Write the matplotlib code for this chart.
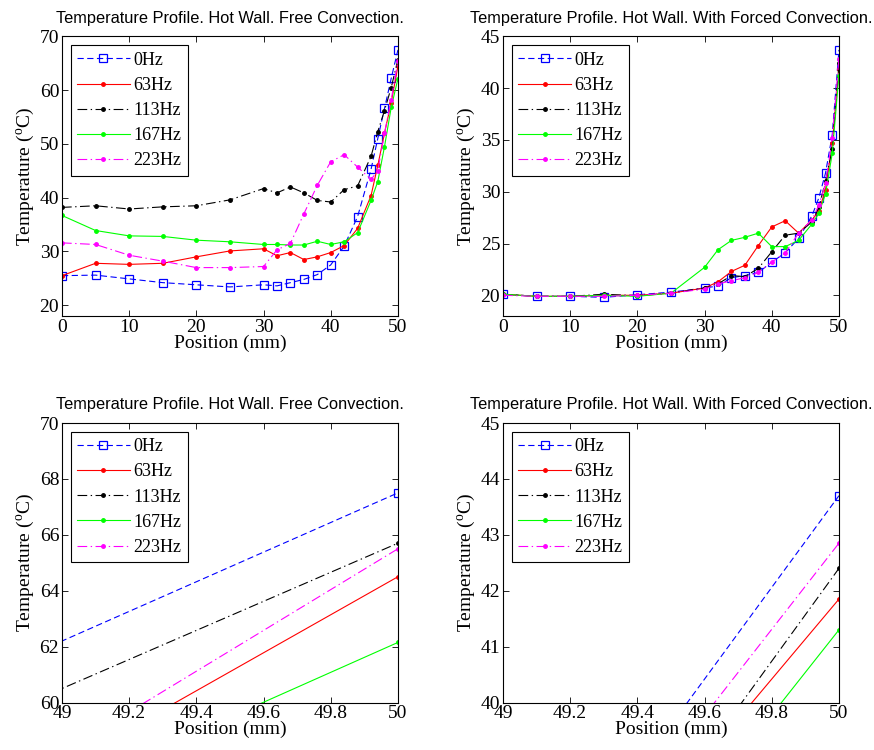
"""Hot-wall temperature profiles: free vs forced convection, full and zoomed views."""

import matplotlib

matplotlib.use("Agg")
import matplotlib.pyplot as plt  # noqa: E402
from matplotlib.ticker import FormatStrFormatter  # noqa: E402

# positions along the wall (mm)
pos = [0, 5, 10, 15, 20, 25, 30, 32, 34, 36, 38, 40, 42, 44, 46, 47, 48, 49, 50]

# free convection (degC)
free_0 = [25.5, 25.6, 24.9, 24.2, 23.8, 23.4, 23.8, 23.6, 24.2, 24.8, 25.7, 27.5, 31.0, 36.5, 45.3, 51.0, 56.6, 62.2, 67.5]
free_63 = [25.5, 27.8, 27.6, 27.8, 29.0, 30.1, 30.5, 29.2, 29.8, 28.5, 29.0, 29.8, 31.1, 34.3, 40.4, 46.0, 52.0, 57.7, 64.5]
free_113 = [38.2, 38.5, 37.9, 38.3, 38.5, 39.6, 41.7, 40.9, 42.0, 40.9, 39.5, 39.2, 41.5, 42.2, 47.7, 52.3, 56.2, 60.5, 65.7]
free_167 = [36.7, 33.9, 32.9, 32.8, 32.1, 31.8, 31.3, 31.3, 31.2, 31.2, 31.9, 31.3, 31.8, 33.5, 39.5, 43.0, 49.5, 56.8, 62.15]
free_223 = [31.6, 31.3, 29.3, 28.2, 27.0, 27.0, 27.2, 30.3, 31.5, 37.0, 42.3, 46.7, 48.0, 45.7, 43.4, 45.0, 52.0, 58.2, 65.5]

# forced convection (degC)
forced_0 = [20.1, 19.9, 19.9, 19.8, 20.05, 20.3, 20.7, 20.9, 21.7, 21.9, 22.2, 23.2, 24.1, 25.5, 27.7, 29.4, 31.8, 35.5, 43.7]
forced_63 = [20.1, 19.9, 19.9, 20.0, 20.0, 20.2, 20.7, 21.3, 22.3, 22.9, 24.8, 26.6, 27.2, 26.0, 27.3, 28.1, 30.2, 34.7, 41.85]
forced_113 = [20.1, 19.9, 19.9, 20.1, 19.95, 20.2, 20.7, 21.1, 21.9, 21.8, 22.6, 24.2, 25.8, 26.0, 27.1, 28.5, 31.0, 34.1, 42.4]
forced_167 = [20.1, 19.9, 19.9, 20.0, 19.9, 20.2, 22.7, 24.4, 25.3, 25.6, 26.0, 24.7, 24.7, 25.3, 26.9, 27.9, 29.8, 33.7, 41.3]
forced_223 = [20.0, 19.9, 19.9, 19.9, 20.0, 20.2, 20.6, 21.1, 21.4, 21.7, 22.2, 23.2, 24.1, 26.0, 27.3, 28.7, 30.8, 35.15, 42.85]

labels = ["0Hz", "63Hz", "113Hz", "167Hz", "223Hz"]

plt.rcParams["font.family"] = "Liberation Serif"
plt.rcParams["mathtext.fontset"] = "custom"
plt.rcParams["mathtext.rm"] = "Liberation Serif"
plt.rcParams["lines.scale_dashes"] = False

DASH = (4.5, 2.5)
DASHDOT = (7, 2.5, 1, 2.5)
styles = [
    dict(color=(0, 0, 1), dashes=DASH, marker="s", ms=6, mfc="none", mew=0.9),
    dict(color=(1, 0, 0), ls="-", marker=".", ms=5),
    dict(color="k", dashes=DASHDOT, marker=".", ms=5),
    dict(color=(0, 1, 0), ls="-", marker=".", ms=5),
    dict(color=(1, 0, 1), dashes=DASHDOT, marker=".", ms=5),
]


def draw(ax, series, title, xlim, ylim, xticks, yticks, xfmt=None, markevery=None):
    for ys, lab, st in zip(series, labels, styles):
        ax.plot(pos, ys, label=lab, lw=0.8, markevery=markevery, **st)
    ax.set_xlim(*xlim)
    ax.set_ylim(*ylim)
    ax.set_xticks(xticks)
    ax.set_yticks(yticks)
    if xfmt:
        ax.xaxis.set_major_formatter(FormatStrFormatter(xfmt))
    ax.tick_params(direction="in", top=True, right=True, length=4, width=0.6,
                   labelsize=14, pad=2)
    for s in ax.spines.values():
        s.set_linewidth(0.8)
    ax.set_xlabel("Position (mm)", fontsize=14, labelpad=-1)
    ax.set_ylabel("Temperature ($^{\\mathrm{o}}$C)", fontsize=14, labelpad=2)
    ax.set_title(title, fontsize=11.8, family="Liberation Sans", pad=10)
    leg = ax.legend(loc="upper left", fontsize=13, handlelength=2.9, handletextpad=0.2,
                    labelspacing=0.45, borderpad=0.35, borderaxespad=0.5,
                    fancybox=False, framealpha=1, edgecolor="k")
    leg.get_frame().set_linewidth(0.8)


free = [free_0, free_63, free_113, free_167, free_223]
forced = [forced_0, forced_63, forced_113, forced_167, forced_223]
t_free = "Temperature Profile. Hot Wall. Free Convection."
t_forced = "Temperature Profile. Hot Wall. With Forced Convection."
zoom_ticks = [49, 49.2, 49.4, 49.6, 49.8, 50]
last_only = [len(pos) - 1]

fig = plt.figure(figsize=(8.74, 7.5), dpi=100)
w, h = 0.3844, 0.3727
ax1 = fig.add_axes([0.0709, 0.5787, w, h])
ax2 = fig.add_axes([0.5755, 0.5787, w, h])
ax3 = fig.add_axes([0.0709, 0.0633, w, h])
ax4 = fig.add_axes([0.5755, 0.0633, w, h])

draw(ax1, free, t_free, (0, 50), (18, 70), range(0, 51, 10), range(20, 71, 10))
draw(ax2, forced, t_forced, (0, 50), (18, 45), range(0, 51, 10), range(20, 46, 5))
draw(ax3, free, t_free, (49, 50), (60, 70), zoom_ticks, range(60, 71, 2), "%g", last_only)
draw(ax4, forced, t_forced, (49, 50), (40, 45), zoom_ticks, range(40, 46, 1), "%g", last_only)

fig.savefig("out.png", dpi=100)
